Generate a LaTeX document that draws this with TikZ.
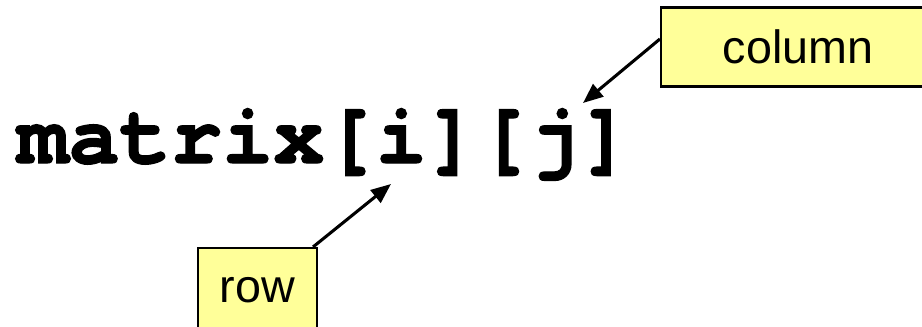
\documentclass[tikz,border=0pt]{standalone}
\usepackage{fontspec}
\setmainfont{Liberation Sans}
\newfontfamily\codefont[BoldFeatures={FakeBold=1.5}]{TeX Gyre Cursor}
\usetikzlibrary{arrows.meta,calc}
\definecolor{noteyellow}{HTML}{FFFF99}
\tikzset{
  notebox/.style={draw=black, line width=1.6pt, fill=noteyellow, inner sep=0pt, font=\fontsize{35}{40}\selectfont},
  pointer/.style={line width=2.3pt, -{Triangle[length=15pt,width=12pt]}},
}
\begin{document}
\begin{tikzpicture}[x=0.75pt,y=-0.75pt]
\useasboundingbox (0,0) rectangle (922,326);
\node[inner sep=0pt, anchor=base west, font=\codefont\bfseries\fontsize{64}{70}\selectfont] (expr) at (17,163) {matrix[i][j]};
\node[notebox, minimum width=274*0.75pt, minimum height=79*0.75pt] (colbox) at (798,47) {column};
\node[notebox, minimum width=119*0.75pt, minimum height=84*0.75pt] (rowbox) at (257.5,290) {row};
\coordinate (coltip) at (583,103);
\coordinate (rowtip) at (391,184);
\coordinate (colstart) at (colbox.west |- 0,39);
\coordinate (rowstart) at ($(rowbox.north east)+(-5,0)$);
\draw[pointer] (colstart) -- (coltip);
\draw[pointer] (rowstart) -- (rowtip);
\end{tikzpicture}
\end{document}
